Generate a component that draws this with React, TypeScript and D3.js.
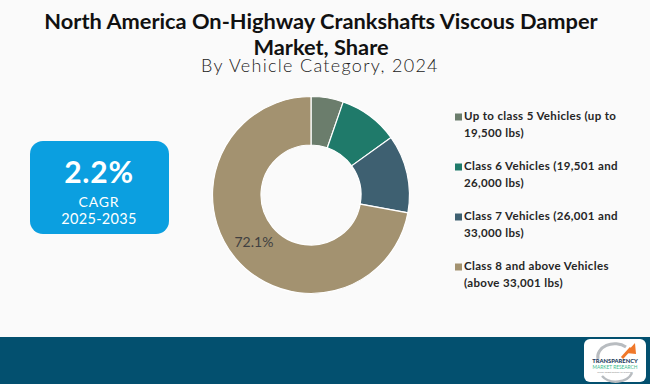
import React from 'react';
import * as d3 from 'd3';

// chart values
const categories = [
  'Up to class 5 Vehicles (up to 19,500 lbs)',
  'Class 6 Vehicles (19,501 and 26,000 lbs)',
  'Class 7 Vehicles (26,001 and 33,000 lbs)',
  'Class 8 and above Vehicles (above 33,001 lbs)',
];
const legendLines = [
  ['Up to class 5 Vehicles (up to', '19,500 lbs)'],
  ['Class 6 Vehicles (19,501 and', '26,000 lbs)'],
  ['Class 7 Vehicles (26,001 and', '33,000 lbs)'],
  ['Class 8 and above Vehicles', '(above 33,001 lbs)'],
];
const shares = [5.3, 9.8, 12.8, 72.1];
const sliceColors = ['#6b7d6c', '#1f7a6a', '#3e6071', '#a39270'];
const labelledShare = 72.1;

const titleLines = ['North America On-Highway Crankshafts Viscous Damper', 'Market, Share'];
const subtitle = 'By Vehicle Category, 2024';
const cagrValue = '2.2%';
const cagrLabel = 'CAGR';
const cagrPeriod = '2025-2035';

const W = 650;
const H = 384;

export default function App() {
  const cx = 311;
  const cy = 195;

  const pie = d3.pie<number>().sort(null).value((d) => d);
  const arcs = pie(shares);
  const arc = d3.arc<d3.PieArcDatum<number>>().innerRadius(50).outerRadius(98.5);

  const legendY = d3.scaleLinear().domain([0, categories.length - 1]).range([120, 270]);

  return (
    <svg
      width={W}
      height={H}
      style={{ position: 'absolute', left: 0, top: 0 }}
      fontFamily="Lato, 'Open Sans', sans-serif"
    >
      <rect width={W} height={H} fill="#fafafa" />

      <g textAnchor="middle" fill="#111">
        <text x={321} y={29} fontSize={21.8} fontWeight={700}>{titleLines[0]}</text>
        <text x={321} y={55} fontSize={21.8} fontWeight={700}>{titleLines[1]}</text>
        <text x={320} y={72} fontSize={18} fontWeight={300} letterSpacing={1.3} fill="#222">{subtitle}</text>
      </g>

      {/* CAGR box */}
      <g>
        <rect x={30} y={141} width={139} height={93} rx={13} fill="#0b9fe0" />
        <text x={99} y={183} textAnchor="middle" fontSize={30} fontWeight={700} letterSpacing={0.8} fill="#fff">{cagrValue}</text>
        <text x={99} y={207} textAnchor="middle" fontSize={14} letterSpacing={0.8} fill="#fff">{cagrLabel}</text>
        <text x={99} y={224} textAnchor="middle" fontSize={14.5} letterSpacing={0.3} fill="#fff">{cagrPeriod}</text>
      </g>

      {/* donut */}
      <g transform={`translate(${cx},${cy})`}>
        {arcs.map((a, i) => (
          <path key={categories[i]} d={arc(a) || ''} fill={sliceColors[i]} stroke="#fff" strokeWidth={1.2} />
        ))}
        {arcs
          .filter((a) => a.data === labelledShare)
          .map((a) => {
            const [lx, ly] = arc.centroid(a);
            return (
              <text key="lbl" x={lx} y={ly} dy="0.35em" textAnchor="middle" fontSize={14} fill="#404040">
                {d3.format('.1f')(a.data)}%
              </text>
            );
          })}
      </g>

      {/* legend */}
      <g fontSize={11.5} fontWeight={700} letterSpacing={0.35} fill="#262626">
        {legendLines.map((lines, i) => (
          <g key={categories[i]} transform={`translate(455,${legendY(i)})`}>
            <rect x={0} y={-6.5} width={7} height={7} fill={sliceColors[i]} />
            <text x={9} y={0}>{lines[0]}</text>
            <text x={9} y={16.5}>{lines[1]}</text>
          </g>
        ))}
      </g>

      {/* footer band */}
      <rect x={0} y={337} width={W} height={H - 337} fill="#03506f" />
      <g transform="translate(584,339)">
        <rect width={62} height={43} rx={6} fill="#fff" />
        <path d="M14,20 A17,13 0 0,1 42,8" fill="none" stroke="#b8bcc0" strokeWidth={3} />
        <path d="M48,34 A17,13 0 0,1 18,37" fill="none" stroke="#b8bcc0" strokeWidth={2.5} />
        <path d="M42,14 L51,4 L52,15 Z" fill="#f0782a" />
        <path d="M38,19 L47,9" stroke="#f0782a" strokeWidth={3} />
        <text x={31} y={24} textAnchor="middle" fontSize={5.8} fontWeight={900} fill="#1d3b5c">TRANSPARENCY</text>
        <text x={31} y={30} textAnchor="middle" fontSize={4.8} fill="#3dbb8c">MARKET RESEARCH</text>
        <text x={31} y={34} textAnchor="middle" fontSize={2.4} fill="#888">Lorem insight partner for business</text>
      </g>
    </svg>
  );
}
